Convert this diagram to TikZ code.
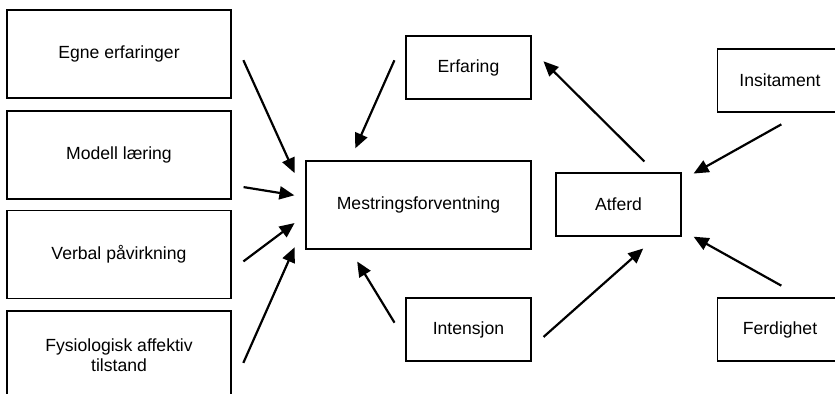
\documentclass[tikz,border=0pt]{standalone}
\usepackage{fontspec}
\setmainfont{Liberation Sans}
\usetikzlibrary{arrows.meta}
\tikzset{
	src/.style ={rectangle, draw=black, line width=0.55pt, minimum width=112pt, minimum height=44pt, inner sep=0pt, align=center},
	hub/.style ={src, minimum width=112.5pt},
	mid/.style ={rectangle, draw=black, line width=0.55pt, minimum width=62.5pt, minimum height=31.5pt, inner sep=0pt, align=center},
	arr/.style ={-{Triangle[length=7.5pt, width=6.5pt]}, line width=1.1pt},
}
\begin{document}
\begin{tikzpicture}[x=0.5pt, y=-0.5pt, font=\fontsize{8.8}{10}\selectfont]
	\clip (0,0) rectangle (835,394);
	% sources of self-efficacy
	\node[src] (egne)   at (119,54)    {Egne erfaringer};
	\node[src] (modell) at (119,155)   {Modell læring};
	\node[src] (verbal) at (119,254.5) {Verbal påvirkning};
	\node[src] (fysio)  at (119,355)   {Fysiologisk affektiv\\tilstand};
	% core
	\node[hub] (mest) at (418.5,205) {Mestringsforventning};
	\node[mid] (erf)  at (468.5,67.5)  {Erfaring};
	\node[mid] (int)  at (468.5,329.5) {Intensjon};
	\node[mid] (atf)  at (618.5,204.5) {Atferd};
	\node[mid] (ins)  at (780,80.5)    {Insitament};
	\node[mid] (ferd) at (780,329.5)   {Ferdighet};
	% arrows
	\draw[arr, shorten <=14.3pt, shorten >=13.2pt] (egne.10)  -- (mest.176);
	\draw[arr, shorten <=6.1pt,  shorten >=5.6pt]  (modell.345) -- (mest.176);
	\draw[arr, shorten <=7.4pt,  shorten >=6.8pt]  (verbal.352) -- (mest.185);
	\draw[arr, shorten <=14.5pt, shorten >=13.3pt] (fysio.343) -- (mest.189);
	\draw[arr, shorten <=13.6pt, shorten >=6.6pt]  (erf.north west) -- (mest.147);
	\draw[arr, shorten <=10.5pt, shorten >=7pt]    (int.190)  -- (mest.213);
	\draw[arr, shorten <=8pt,    shorten >=9pt]    (int.344)  -- (atf.320);
	\draw[arr, shorten <=7.8pt,  shorten >=8.4pt]  (atf.41)   -- (erf.16);
	\draw[arr, shorten <=12.1pt, shorten >=6.9pt]  (ins.305)  -- (atf.21);
	\draw[arr, shorten <=12.1pt, shorten >=6.9pt]  (ferd.55)  -- (atf.338);
\end{tikzpicture}
\end{document}
